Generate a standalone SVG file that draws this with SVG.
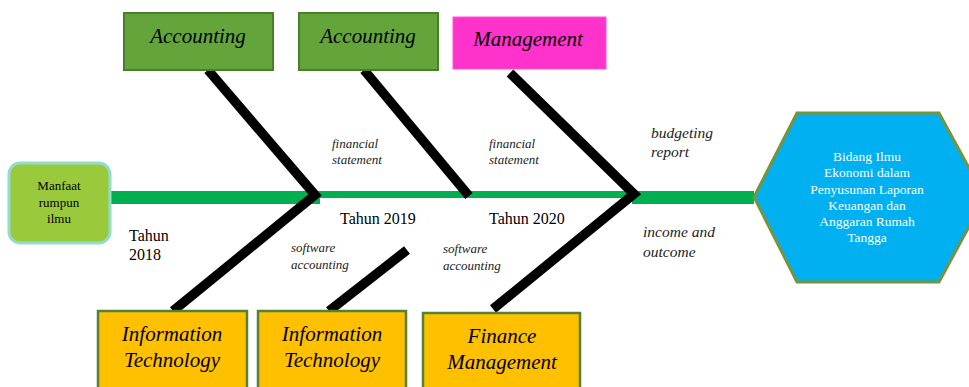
<svg xmlns="http://www.w3.org/2000/svg" width="969" height="387" viewBox="0 0 969 387" font-family="'Liberation Serif', 'DejaVu Serif', serif">
<style>
  text { font-family: 'Liberation Serif', 'DejaVu Serif', serif; fill: #000; }
  .box-acc { fill: #63A53A; stroke: #4A7E2B; stroke-width: 2; }
  .box-mgt { fill: #FF33CC; stroke: #FF55D6; stroke-width: 1; }
  .box-bot { fill: #FFC000; stroke: #538135; stroke-width: 2.5; }
  .bone { fill: none; stroke: #000; stroke-width: 9.5; stroke-linejoin: miter; stroke-linecap: butt; }
  .spine { fill: #00B050; }
  .lbl { font-size: 13px; font-style: italic; fill: #222; }
  .lbl2 { font-size: 15.5px; font-style: italic; fill: #222; }
  .yr { font-size: 16px; }
  .boxtxt { font-size: 21px; font-style: italic; text-anchor: middle; }
  .hex { font-size: 13.5px; text-anchor: middle; fill: #fff; }
  .tail { font-size: 13px; text-anchor: middle; }
</style>
<rect width="969" height="387" fill="#fff"/>

<g id="connectors">
  <rect class="spine" x="108" y="191" width="212" height="13"/>
  <rect class="spine" x="318" y="191" width="318" height="7"/>
  <rect class="spine" x="632" y="191" width="122" height="13"/>
  <polyline class="bone" points="208,70 315,195 173,311"/>
  <line class="bone" x1="364" y1="70" x2="469" y2="196"/>
  <line class="bone" x1="407" y1="250" x2="329" y2="311"/>
  <polyline class="bone" points="510,73 634,194 493,309"/>
</g>

<g id="head">
  <polygon points="754,197 797,113 939,113 985,197 939,282 797,282" fill="#00B0F0" stroke="#77933C" stroke-width="3"/>
  <text class="hex" x="867" y="161">Bidang Ilmu</text>
  <text class="hex" x="867" y="177">Ekonomi dalam</text>
  <text class="hex" x="867" y="193.5">Penyusunan Laporan</text>
  <text class="hex" x="867" y="210">Keuangan dan</text>
  <text class="hex" x="867" y="226">Anggaran Rumah</text>
  <text class="hex" x="867" y="242">Tangga</text>
</g>

<g id="tail">
  <rect x="9" y="163" width="101" height="80" rx="11" fill="#9ACA3C" stroke="#93DCCB" stroke-width="3"/>
  <text class="tail" x="59" y="190">Manfaat</text>
  <text class="tail" x="59" y="207">rumpun</text>
  <text class="tail" x="59" y="223">ilmu</text>
</g>

<g id="accounting1">
  <rect class="box-acc" x="124" y="13" width="149" height="57"/>
  <text class="boxtxt" x="198" y="43">Accounting</text>
</g>
<g id="accounting2">
  <rect class="box-acc" x="299" y="13" width="139" height="57"/>
  <text class="boxtxt" x="368" y="43">Accounting</text>
</g>
<g id="management">
  <rect class="box-mgt" x="453" y="17" width="153" height="52"/>
  <text class="boxtxt" x="528" y="46">Management</text>
</g>

<g id="it1">
  <rect class="box-bot" x="98" y="311" width="149" height="80"/>
  <text class="boxtxt" x="172" y="341">Information</text>
  <text class="boxtxt" x="172" y="367">Technology</text>
</g>
<g id="it2">
  <rect class="box-bot" x="258" y="311" width="148" height="80"/>
  <text class="boxtxt" x="332" y="341">Information</text>
  <text class="boxtxt" x="332" y="367">Technology</text>
</g>
<g id="finance">
  <rect class="box-bot" x="423" y="313" width="157" height="80"/>
  <text class="boxtxt" x="502" y="343">Finance</text>
  <text class="boxtxt" x="502" y="369">Management</text>
</g>

<g id="labels">
  <text class="yr" x="129" y="241">Tahun</text>
  <text class="yr" x="129" y="260">2018</text>
  <text class="yr" x="340" y="224">Tahun 2019</text>
  <text class="yr" x="489" y="224">Tahun 2020</text>
  <text class="lbl" x="332" y="148">financial</text>
  <text class="lbl" x="332" y="164">statement</text>
  <text class="lbl" x="489" y="148">financial</text>
  <text class="lbl" x="489" y="164">statement</text>
  <text class="lbl" x="291" y="252">software</text>
  <text class="lbl" x="291" y="269">accounting</text>
  <text class="lbl" x="443" y="253">software</text>
  <text class="lbl" x="443" y="270">accounting</text>
  <text class="lbl2" x="651" y="138">budgeting</text>
  <text class="lbl2" x="651" y="157">report</text>
  <text class="lbl2" x="643" y="237">income and</text>
  <text class="lbl2" x="643" y="257">outcome</text>
</g>
</svg>
